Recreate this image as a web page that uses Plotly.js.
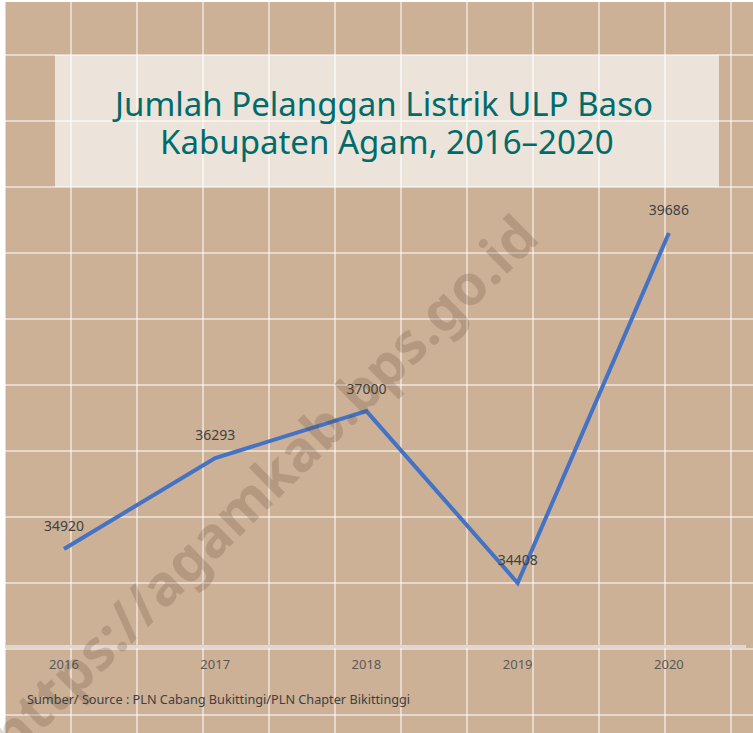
<!DOCTYPE html>
<html>
<head>
<meta charset="utf-8">
<script src="https://cdn.plot.ly/plotly-3.0.1.min.js"></script>
<style>html,body{margin:0;padding:0;background:#fff;}#chart{width:753px;height:733px;}</style>
</head>
<body>
<div id="chart"></div>
<script>
// Data
const years = ['2016', '2017', '2018', '2019', '2020'];
const customers = [34920, 36293, 37000, 34408, 39686];
const labels = ['34920', '36293', '37000', '34408', '39686'];
const titleLines = ['Jumlah Pelanggan Listrik ULP Baso', 'Kabupaten Agam, 2016\u20132020'];
const sourceText = 'Sumber/ Source : PLN Cabang Bukittingi/PLN Chapter Bikittinggi';
const watermark = 'https://agamkab.bps.go.id';

const W = 753, H = 733;

const traces = [
  // helper trace for the background paper grid (pixel-space axes)
  {x: [], y: [], xaxis: 'x', yaxis: 'y', type: 'scatter', mode: 'markers', hoverinfo: 'skip', showlegend: false},
  {
    x: years, y: customers, xaxis: 'x2', yaxis: 'y2', type: 'scatter',
    mode: 'lines+markers+text',
    line: {color: '#4472c4', width: 4},
    marker: {size: 21, opacity: 0},
    text: labels, textposition: 'top center',
    textfont: {family: 'Noto Sans', size: 14, color: '#404040'},
    hoverinfo: 'x+y', showlegend: false, cliponaxis: false
  }
];

const layout = {
  width: W, height: H,
  margin: {l: 0, r: 0, t: 0, b: 0},
  paper_bgcolor: '#ffffff',
  plot_bgcolor: 'rgba(0,0,0,0)',
  font: {family: 'Noto Sans', color: '#595959'},
  showlegend: false,
  xaxis: {
    domain: [0, 1], range: [0, W], showgrid: true, gridcolor: 'rgba(255,255,255,0.5)', gridwidth: 2,
    tick0: 5, dtick: 66, showticklabels: false, zeroline: false, showline: false, ticks: '', fixedrange: true
  },
  yaxis: {
    domain: [0, 1], range: [H, 0], showgrid: true, gridcolor: 'rgba(255,255,255,0.5)', gridwidth: 2,
    tick0: 55, dtick: 66, showticklabels: false, zeroline: false, showline: false, ticks: '', fixedrange: true
  },
  xaxis2: {
    domain: [5 / W, 746 / W], anchor: 'y2', type: 'category', range: [-0.39, 4.51],
    showgrid: false, zeroline: false, showline: true, linecolor: '#d9d9d9', linewidth: 2.5,
    ticks: 'outside', ticklen: 6, tickcolor: 'rgba(0,0,0,0)',
    tickfont: {family: 'Noto Sans', size: 13, color: '#595959'}
  },
  yaxis2: {
    domain: [(H - 645) / H, (H - 200) / H], anchor: 'x2', range: [33473, 40184],
    showgrid: false, zeroline: false, showline: false, showticklabels: false, ticks: ''
  },
  shapes: [
    {type: 'rect', xref: 'x', yref: 'y', x0: 5, x1: W, y0: 2, y1: H, layer: 'below',
     fillcolor: '#cdb197', line: {width: 0}},
    {type: 'rect', xref: 'x', yref: 'y', x0: 55, x1: 719, y0: 55, y1: 187, layer: 'below',
     fillcolor: '#ece4da', line: {width: 0}}
  ],
  annotations: [
    {xref: 'x', yref: 'y', x: 382, y: 103, text: titleLines[0], showarrow: false,
     font: {family: 'Comic Sans MS, Noto Sans', size: 33, color: '#006b6b'}},
    {xref: 'x', yref: 'y', x: 387, y: 141, text: titleLines[1], showarrow: false,
     font: {family: 'Comic Sans MS, Noto Sans', size: 33, color: '#006b6b'}},
    {xref: 'x', yref: 'y', x: 25, y: 699, xanchor: 'left', text: sourceText, showarrow: false,
     font: {family: 'Comic Sans MS, Noto Sans', size: 12.7, color: '#404040'}},
    {xref: 'x', yref: 'y', x: 262, y: 484, text: '<b>' + watermark + '</b>', showarrow: false, textangle: -44.5,
     font: {family: 'Noto Sans', size: 56, color: 'rgba(80,60,40,0.2)'}}
  ]
};

Plotly.newPlot('chart', traces, layout, {displayModeBar: false, staticPlot: true});
</script>
</body>
</html>
